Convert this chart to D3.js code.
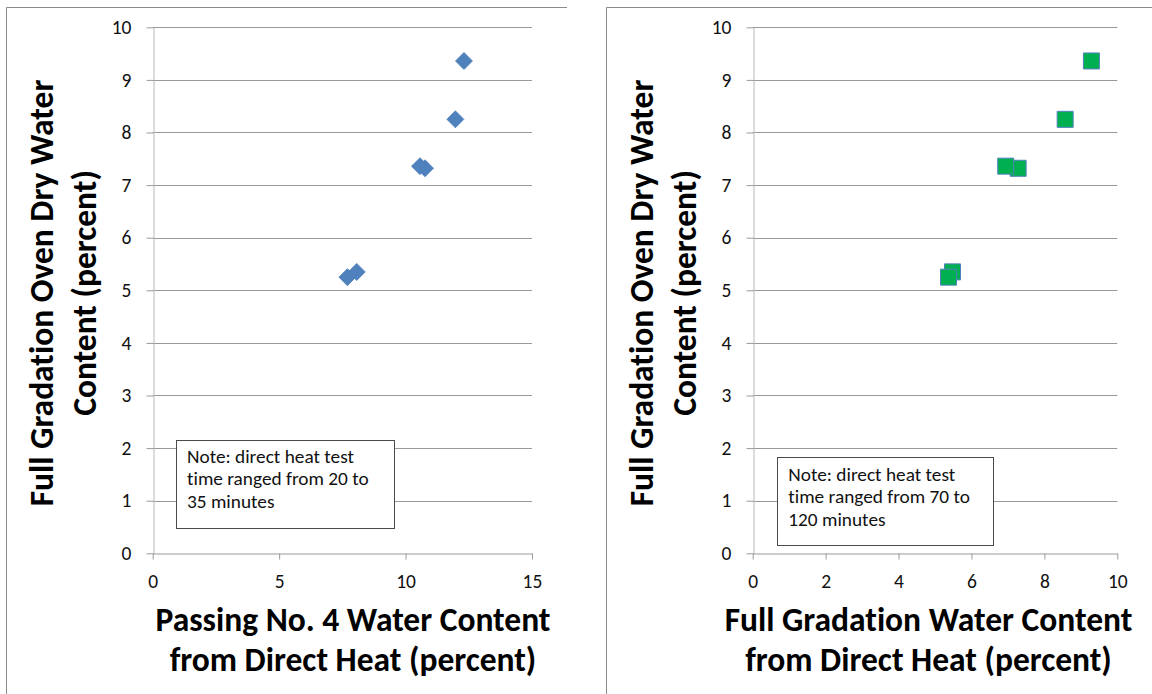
<!DOCTYPE html>
<html>
<head>
<meta charset="utf-8">
<script src="https://cdn.jsdelivr.net/npm/d3@7"></script>
<style>
  html, body { margin: 0; padding: 0; background: #fff; }
  svg { display: block; }
  text { font-variant-ligatures: none; }
</style>
</head>
<body>
<svg id="chart" width="1152" height="694"></svg>
<script>
// Oven-dry water content of the full gradation (y in both panels), percent
const ovenDry = [9.36, 8.25, 7.32, 7.36, 5.35, 5.25];
// Passing No. 4 water content from direct heat, percent (left panel x)
const passingNo4 = [12.31, 11.97, 10.77, 10.57, 8.07, 7.70];
// Full gradation water content from direct heat, percent (right panel x)
const fullGradation = [9.29, 8.57, 7.28, 6.94, 5.48, 5.37];

const yTicks = [0, 1, 2, 3, 4, 5, 6, 7, 8, 9, 10];
const xTicksLeft = [0, 5, 10, 15];
const xTicksRight = [0, 2, 4, 6, 8, 10];

const yTitleLines = ["Full Gradation Oven Dry Water", "Content (percent)"];
const xTitleLeft = ["Passing No. 4 Water Content", "from Direct Heat (percent)"];
const xTitleRight = ["Full Gradation Water Content", "from Direct Heat (percent)"];
const noteLeft = ["Note: direct heat test", "time ranged from 20 to", "35 minutes"];
const noteRight = ["Note: direct heat test", "time ranged from 70 to", "120 minutes"];

const FONT = "Carlito, Calibri, 'Open Sans', sans-serif";
const svg = d3.select("#chart");

// Font size that makes a given string span a given width
function fittedSize(str, weight, width) {
  const t = svg.append("text").attr("font-family", FONT).attr("font-weight", weight)
    .attr("font-size", 20).text(str);
  const w = t.node().getComputedTextLength();
  t.remove();
  return 20 * width / w;
}
const titleSize = fittedSize(xTitleLeft[0], "bold", 395);
const noteSize = fittedSize(noteLeft[0], "normal", 167);
const tickSize = 19.5;

const panels = [
  {
    frameX: 6.5, frameRight: 567,
    xRange: [152.7, 532], xDomain: [0, 15], xTicks: xTicksLeft,
    xs: passingNo4, marker: "diamond",
    yTitleX: [53, 96], xTitle: xTitleLeft, xTitleCx: 353,
    note: noteLeft, noteBox: [176, 440, 218, 88], noteBase: 22.5
  },
  {
    frameX: 606.5, frameRight: 1152,
    xRange: [752.7, 1117.3], xDomain: [0, 10], xTicks: xTicksRight,
    xs: fullGradation, marker: "square",
    yTitleX: [653, 696], xTitle: xTitleRight, xTitleCx: 928.5,
    note: noteRight, noteBox: [777.3, 456.7, 216, 88], noteBase: 24
  }
];

const yRange = [553.3, 27.3];

panels.forEach(p => {
  const g = svg.append("g");

  // chart frame (top and left edges)
  g.append("path")
    .attr("d", `M${p.frameX},694 V7.5 H${p.frameRight}`)
    .attr("fill", "none").attr("stroke", "#8a8a8a").attr("stroke-width", 1);

  const x = d3.scaleLinear().domain(p.xDomain).range(p.xRange);
  const y = d3.scaleLinear().domain([0, 10]).range(yRange);

  // horizontal gridlines
  g.append("g").selectAll("line")
    .data(yTicks.filter(v => v > 0))
    .join("line")
    .attr("x1", p.xRange[0]).attr("x2", p.xRange[1])
    .attr("y1", d => Math.round(y(d)) + 0.5).attr("y2", d => Math.round(y(d)) + 0.5)
    .attr("stroke", "#9a9a9a").attr("stroke-width", 1);

  // y axis
  const yAxis = g.append("g")
    .attr("transform", `translate(${Math.round(p.xRange[0]) + 0.5},0)`)
    .call(d3.axisLeft(y).tickValues(yTicks).tickSize(7).tickSizeOuter(0).tickPadding(15));
  yAxis.select(".domain").attr("stroke", "#b8b8b8");
  yAxis.selectAll(".tick line").attr("stroke", "#9a9a9a");
  yAxis.selectAll(".tick text")
    .attr("font-family", FONT).attr("font-size", tickSize).attr("fill", "#111");

  // x axis
  const xAxis = g.append("g")
    .attr("transform", `translate(0,${Math.round(yRange[0]) + 0.5})`)
    .call(d3.axisBottom(x).tickValues(p.xTicks).tickSize(6).tickSizeOuter(0).tickPadding(14.5));
  xAxis.select(".domain").attr("stroke", "#9a9a9a");
  xAxis.selectAll(".tick line").attr("stroke", "#9a9a9a");
  xAxis.selectAll(".tick text")
    .attr("font-family", FONT).attr("font-size", tickSize).attr("fill", "#111");

  // note box
  const [bx, by, bw, bh] = p.noteBox;
  g.append("rect")
    .attr("x", Math.round(bx) + 0.5).attr("y", Math.round(by) + 0.5)
    .attr("width", bw).attr("height", bh)
    .attr("fill", "#fff").attr("stroke", "#4a4a4a").attr("stroke-width", 1);
  g.append("text")
    .attr("font-family", FONT).attr("font-size", noteSize).attr("fill", "#111")
    .selectAll("tspan").data(p.note).join("tspan")
    .attr("x", bx + 11).attr("y", (d, i) => by + p.noteBase + i * 22.7)
    .text(d => d);

  // markers
  const pts = p.xs.map((v, i) => ({ x: v, y: ovenDry[i] }));
  if (p.marker === "diamond") {
    g.append("g").selectAll("path").data(pts).join("path")
      .attr("d", d3.symbol().type(d3.symbolSquare).size(144))
      .attr("transform", d => `translate(${x(d.x)},${y(d.y)}) rotate(45)`)
      .attr("fill", "#4f81bd").attr("stroke", "#4a7ebb").attr("stroke-width", 0.75);
  } else {
    g.append("g").selectAll("path").data(pts).join("path")
      .attr("d", d3.symbol().type(d3.symbolSquare).size(256))
      .attr("transform", d => `translate(${x(d.x)},${y(d.y)})`)
      .attr("fill", "#00b050").attr("stroke", "#4f81bd").attr("stroke-width", 1);
  }

  // y axis title (two rotated lines)
  const yMid = 293;
  p.yTitleX.forEach((bx2, i) => {
    g.append("text")
      .attr("transform", `translate(${bx2},${yMid}) rotate(-90)`)
      .attr("text-anchor", "middle")
      .attr("font-family", FONT).attr("font-weight", "bold").attr("font-size", titleSize)
      .attr("fill", "#000")
      .text(yTitleLines[i]);
  });

  // x axis title (two lines)
  p.xTitle.forEach((line, i) => {
    g.append("text")
      .attr("x", p.xTitleCx).attr("y", 631 + i * 40)
      .attr("text-anchor", "middle")
      .attr("font-family", FONT).attr("font-weight", "bold").attr("font-size", titleSize)
      .attr("fill", "#000")
      .text(line);
  });
});
</script>
</body>
</html>
